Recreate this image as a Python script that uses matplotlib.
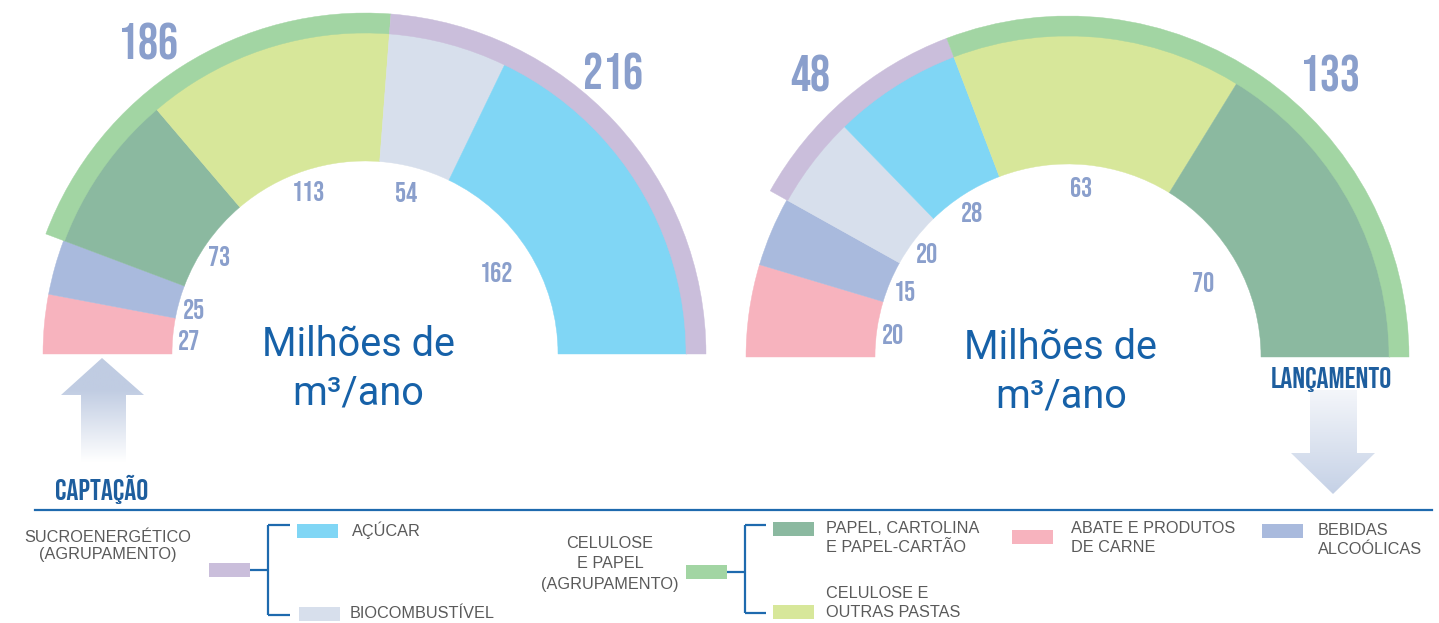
import numpy as np
import matplotlib
matplotlib.use("Agg")
import matplotlib.pyplot as plt
from matplotlib.patches import Wedge, Polygon, Rectangle
from matplotlib.lines import Line2D

# ---------------- data ----------------
sectors = ["ABATE E PRODUTOS DE CARNE", "BEBIDAS ALCOÓLICAS",
           "PAPEL, CARTOLINA E PAPEL-CARTÃO", "CELULOSE E OUTRAS PASTAS",
           "BIOCOMBUSTÍVEL", "AÇÚCAR"]
captacao_values = [27, 25, 73, 113, 54, 162]
captacao_order = [0, 1, 2, 3, 4, 5]
lancamento_values = [20, 15, 20, 28, 63, 70]
lancamento_order = [0, 1, 4, 5, 3, 2]   # sector index of each slice, left to right

captacao_groups = [("CELULOSE E PAPEL", [2, 3], 186), ("SUCROENERGÉTICO", [4, 5], 216)]
lancamento_groups = [("SUCROENERGÉTICO", [2, 3], 48), ("CELULOSE E PAPEL", [4, 5], 133)]

sector_colors = ["#F7B3BE", "#A9BADD", "#8BB9A0", "#D7E79A", "#D7DFEC", "#80D6F5"]
group_colors = {"CELULOSE E PAPEL": "#A2D5A3", "SUCROENERGÉTICO": "#CABEDB"}

unit_label = "Milhões de\nm³/ano"

# ---------------- style ----------------
LABEL_C = "#8A9FCC"
DARK_BLUE = "#1661A8"
GREY_TXT = "#5A5A5A"
NUMF = ["Bebas Neue", "DejaVu Sans"]

W, H = 1439, 623
fig = plt.figure(figsize=(W / 100, H / 100), dpi=100)
ax = fig.add_axes([0, 0, 1, 1])
ax.set_xlim(0, W)
ax.set_ylim(H, 0)
ax.set_aspect("equal")
ax.axis("off")

R_IN, R_OUT, R_BAND = 193, 322, 341


def half_donut(cx, cy, values, order, groups, group_label_pos):
    total = float(sum(values))
    cum = np.concatenate([[0], np.cumsum(values)])
    ang = 180 + cum / total * 180.0
    for i, v in enumerate(values):
        c = sector_colors[order[i]]
        ax.add_patch(Wedge((cx, cy), R_OUT, ang[i], ang[i + 1], width=R_OUT - R_IN,
                           facecolor=c, edgecolor=c, lw=0.3))
        mid = np.deg2rad((ang[i] + ang[i + 1]) / 2)
        r = 174 - 18 * max(0.0, np.cos(mid))
        ax.text(cx + r * np.cos(mid) - 3, cy + r * np.sin(mid) + 2, str(v), color=LABEL_C,
                fontsize=20, family=NUMF, ha="center", va="center")
    for (gname, idx, gtot), (gx, gy) in zip(groups, group_label_pos):
        a1, a2 = ang[idx[0]], ang[idx[-1] + 1]
        gc = group_colors[gname]
        ax.add_patch(Wedge((cx, cy), R_BAND, a1, a2, width=R_BAND - R_OUT + 1,
                           facecolor=gc, edgecolor=gc, lw=0.3))
        ax.text(gx, gy + 2, str(gtot), color=LABEL_C, fontsize=36,
                family=NUMF, ha="center", va="center")
    ax.text(cx - 7, cy + 15, unit_label, color=DARK_BLUE, fontsize=28.5,
            family=["Roboto", "DejaVu Sans"], ha="center", va="center", linespacing=1.3)


half_donut(365, 354, captacao_values, captacao_order, captacao_groups, [(148, 40), (613, 70)])
half_donut(1068, 357, lancamento_values, lancamento_order, lancamento_groups, [(810, 72), (1330, 72)])


# ---------------- arrows with gradient ----------------
def grad_arrow(poly, y0, y1, color_top, color_bot, solid_frac=0.0):
    rgb_t = np.array(matplotlib.colors.to_rgb(color_top))
    rgb_b = np.array(matplotlib.colors.to_rgb(color_bot))
    n = 200
    t = np.linspace(0, 1, n)
    t = np.clip((t - solid_frac) / (1 - solid_frac), 0, 1)[:, None]
    img = (rgb_t[None, :] * (1 - t) + rgb_b[None, :] * t)[:, None, :]
    img = np.repeat(img, 2, axis=1)
    xs = [p[0] for p in poly]
    patch = Polygon(poly, closed=True, facecolor="none", edgecolor="none")
    ax.add_patch(patch)
    im = ax.imshow(img, extent=[min(xs), max(xs), y1, y0], aspect="auto", zorder=2,
                   interpolation="bilinear")
    im.set_clip_path(patch)


up = [(102, 358), (144, 395), (126, 395), (126, 462), (81, 462), (81, 395), (61, 395)]
grad_arrow(up, 358, 462, "#C0CCE2", "#FFFFFF", solid_frac=0.3)
down = [(1310, 390), (1357, 390), (1357, 453), (1375, 453), (1333, 494), (1291, 453), (1310, 453)]
grad_arrow(down, 390, 494, "#F4F6FA", "#C5D1E6")
ax.set_xlim(0, W)
ax.set_ylim(H, 0)

ax.text(102, 489, "CAPTAÇÃO", color="#1E5E9E", fontsize=21.5,
        family=NUMF, ha="center", va="center")
ax.text(1331, 380, "LANÇAMENTO", color="#1E5E9E", fontsize=21.5,
        family=NUMF, ha="center", va="center")

# separator
ax.add_line(Line2D([35, 1432], [510, 510], color="#1E6AAE", lw=1.6))

# ---------------- legend ----------------
LF = ["Liberation Sans", "DejaVu Sans"]
LFS = 11.7


def swatch(x, y, c, w=41, h=14):
    ax.add_patch(Rectangle((x, y), w, h, facecolor=c, edgecolor="none"))


def bracket(x_sw, y_mid, x_v, y_top, y_bot, x_tick):
    kw = dict(color="#1E6AAE", lw=1.6, solid_capstyle="butt")
    ax.add_line(Line2D([x_sw, x_v], [y_mid, y_mid], **kw))
    ax.add_line(Line2D([x_v, x_v], [y_top, y_bot], **kw))
    ax.add_line(Line2D([x_v, x_tick], [y_top, y_top], **kw))
    ax.add_line(Line2D([x_v, x_tick], [y_bot, y_bot], **kw))


ax.text(108, 546, "SUCROENERGÉTICO\n(AGRUPAMENTO)", color=GREY_TXT, fontsize=LFS,
        family=LF, ha="center", va="center", linespacing=1.2)
swatch(209, 563, group_colors["SUCROENERGÉTICO"])
bracket(250, 570, 268, 525, 615, 290)
swatch(297, 524, sector_colors[5])
ax.text(352, 530, "AÇÚCAR", color=GREY_TXT, fontsize=LFS, family=LF, ha="left", va="center")
swatch(299, 607, sector_colors[4])
ax.text(350, 613, "BIOCOMBUSTÍVEL", color=GREY_TXT, fontsize=LFS, family=LF, ha="left", va="center")

ax.text(610, 564, "CELULOSE\nE PAPEL\n(AGRUPAMENTO)", color=GREY_TXT, fontsize=LFS,
        family=LF, ha="center", va="center", linespacing=1.42)
swatch(686, 565, group_colors["CELULOSE E PAPEL"])
bracket(727, 572, 745, 525, 613, 766)
swatch(773, 522, sector_colors[2])
ax.text(826, 538, "PAPEL, CARTOLINA\nE PAPEL-CARTÃO", color=GREY_TXT, fontsize=LFS,
        family=LF, ha="left", va="center", linespacing=1.35)
swatch(773, 605, sector_colors[3])
ax.text(826, 603, "CELULOSE E\nOUTRAS PASTAS", color=GREY_TXT, fontsize=LFS,
        family=LF, ha="left", va="center", linespacing=1.3)

swatch(1012, 530, sector_colors[0])
ax.text(1071, 538, "ABATE E PRODUTOS\nDE CARNE", color=GREY_TXT, fontsize=LFS,
        family=LF, ha="left", va="center", linespacing=1.35)
swatch(1262, 524, sector_colors[1])
ax.text(1318, 540, "BEBIDAS\nALCOÓLICAS", color=GREY_TXT, fontsize=LFS,
        family=LF, ha="left", va="center", linespacing=1.35)

fig.savefig("out.png", dpi=100, facecolor="white")
